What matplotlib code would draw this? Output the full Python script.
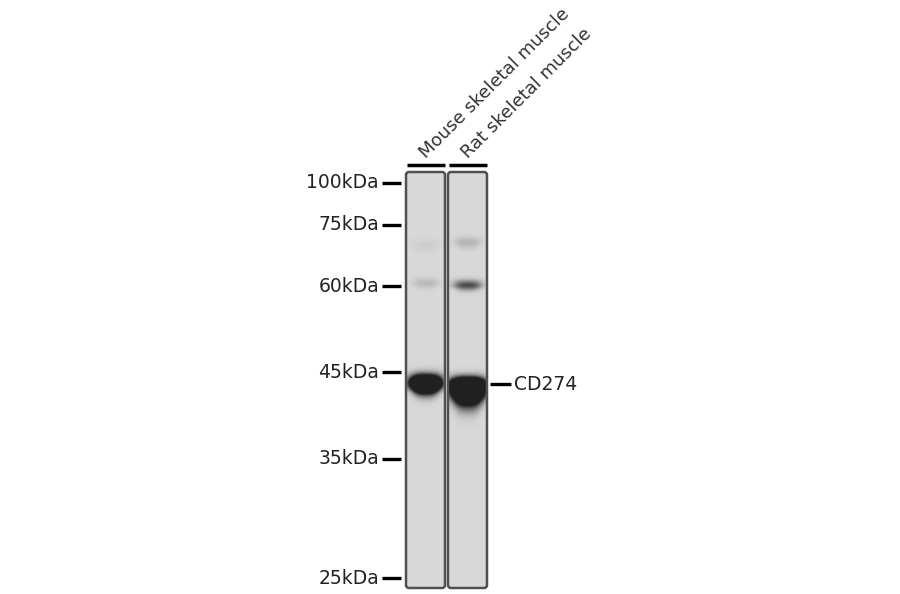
import numpy as np
import matplotlib
matplotlib.use("Agg")
import matplotlib.pyplot as plt
from matplotlib.patches import FancyBboxPatch

# marker ladder (label, pixel row)
marker_labels = ["100kDa", "75kDa", "60kDa", "45kDa", "35kDa", "25kDa"]
marker_rows = [183, 225, 286, 372, 459, 578]

# sample lanes
lane_names = ["Mouse skeletal muscle", "Rat skeletal muscle"]
lane_left = [406, 448]
lane_width = 39
lane_top, lane_bottom = 172, 588

# bands per lane: (row, strength, sigma_top, sigma_bottom, half width)
bands = [
    [(245, 0.04, 6, 6, 14), (283, 0.12, 5, 5, 13), (383, 2.2, 8, 10, 16)],
    [(242, 0.14, 5, 6, 13), (285, 0.55, 5, 5, 14), (386, 2.6, 8, 17, 18)],
]

target_label = "CD274"
target_row = 384

fig = plt.figure(figsize=(9, 5.94), dpi=100)
ax = fig.add_axes([0, 0, 1, 1])
ax.set_xlim(0, 900)
ax.set_ylim(594, 0)
ax.axis("off")

bg = 0.845
for i, (x0, name) in enumerate(zip(lane_left, lane_names)):
    ys = np.arange(lane_top, lane_bottom, 0.5)
    xs = np.arange(x0, x0 + lane_width, 0.5)
    X, Y = np.meshgrid(xs, ys)
    xc = x0 + lane_width / 2
    dark = np.zeros_like(X)
    for row, amp, s_top, s_bot, hw in bands[i]:
        hprof = np.exp(-np.abs((X - xc) / hw) ** 3)
        # bottom edge bulges in the middle
        sb = s_bot * (0.55 + 0.45 * hprof)
        sig = np.where(Y < row, s_top, sb)
        dark += amp * np.exp(-((Y - row) / sig) ** 2) * hprof
    img = np.clip(bg - dark, 0.13, 1.0)
    ax.imshow(img, cmap="gray", vmin=0, vmax=1, extent=(x0, x0 + lane_width, lane_bottom, lane_top),
              interpolation="bilinear", zorder=1)
    ax.add_patch(FancyBboxPatch((x0, lane_top), lane_width, lane_bottom - lane_top,
                                boxstyle="round,pad=0,rounding_size=3", fill=False,
                                edgecolor="#505050", linewidth=1.8, zorder=2))
    ax.plot([x0 + 1, x0 + lane_width], [165, 165], color="black", linewidth=2.5,
            solid_capstyle="butt", zorder=2)
    ax.text(x0 + 20, 159, name, rotation=45, rotation_mode="anchor", ha="left", va="baseline",
            fontsize=13, color="#333333")

for lab, row in zip(marker_labels, marker_rows):
    ax.plot([382, 401], [row, row], color="black", linewidth=2.4, solid_capstyle="butt")
    ax.text(379, row, lab, ha="right", va="center", fontsize=13.5, color="#222222")

ax.plot([490, 511], [target_row, target_row], color="black", linewidth=2.4, solid_capstyle="butt")
ax.text(514, target_row, target_label, ha="left", va="center", fontsize=13.5, color="#222222")

fig.savefig("out.png", dpi=100)
